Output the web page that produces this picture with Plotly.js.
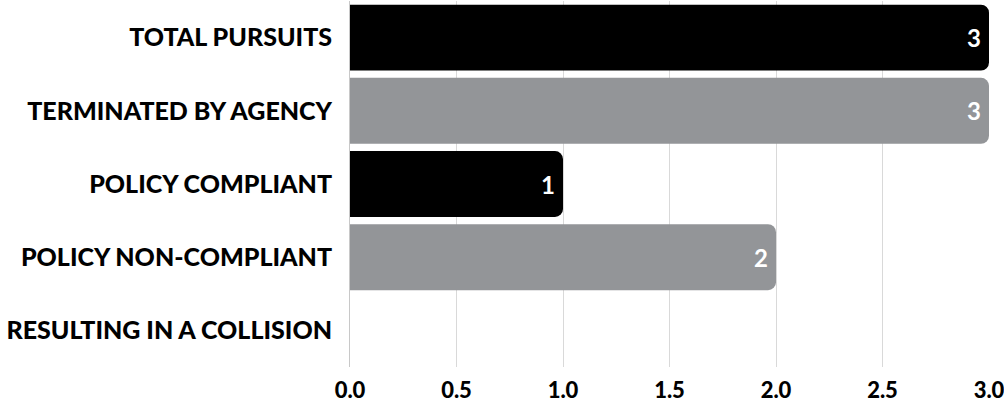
<!DOCTYPE html>
<html><head><meta charset="utf-8">
<script src="https://cdn.plot.ly/plotly-3.0.1.min.js"></script>
<style>html,body{margin:0;padding:0;background:#fff}#chart{width:1004px;height:403px}</style>
</head><body><div id="chart"></div>
<script>
const categories = ["TOTAL PURSUITS","TERMINATED BY AGENCY","POLICY COMPLIANT","POLICY NON-COMPLIANT","RESULTING IN A COLLISION"];
const values = [3, 3, 1, 2, 0];
const barColors = ["#000000","#939598","#000000","#939598","#000000"];
const tickVals = [0, 0.5, 1, 1.5, 2, 2.5, 3];
const tickText = ["0.0","0.5","1.0","1.5","2.0","2.5","3.0"];

const trace = {
  type: "bar", orientation: "h",
  y: categories, x: values,
  marker: {color: barColors, cornerradius: 8},
  width: 0.9,
  text: values.map(v => v === 0 ? "" : String(v)),
  textposition: "inside", insidetextanchor: "end",
  constraintext: "none",
  textfont: {family: "Lato", size: 24, color: "#ffffff", weight: 700},
  cliponaxis: false, hoverinfo: "none"
};
const layout = {
  width: 1004, height: 403,
  margin: {l: 350, r: 15, t: 1, b: 36},
  paper_bgcolor: "#fff", plot_bgcolor: "#fff",
  showlegend: false,
  bargap: 0.1,
  xaxis: {range: [0, 3], tickvals: tickVals, ticktext: tickText,
    showgrid: true, gridcolor: "#d9d9d9", gridwidth: 1,
    zeroline: false, showline: false, ticks: "", ticklabelstandoff: 8,
    ticklabeloverflow: "allow",
    tickfont: {family: "Lato", size: 22, color: "#000", weight: 900}, fixedrange: true},
  yaxis: {autorange: "reversed", showgrid: false, zeroline: false,
    showline: true, linecolor: "#c8c8c8", linewidth: 1, ticks: "", ticklabelstandoff: 12,
    tickfont: {family: "Lato", size: 25, color: "#000", weight: 900}, fixedrange: true}
};
Plotly.newPlot("chart", [trace], layout, {displayModeBar: false, staticPlot: true});
</script></body></html>
